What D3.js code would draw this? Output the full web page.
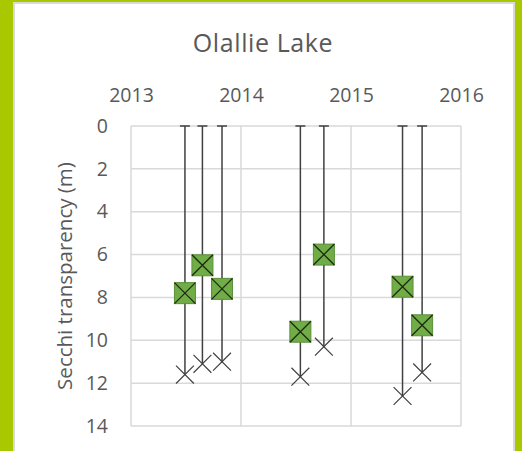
<!DOCTYPE html>
<html>
<head>
<meta charset="utf-8">
<script src="https://cdn.jsdelivr.net/npm/d3@7"></script>
<style>
  body { margin: 0; background: #a9c800; }
  svg { display: block; }
</style>
</head>
<body>
<svg id="canvas" width="522" height="451"></svg>
<script>
// sampling dates and secchi readings
var sampleDates = ["2013-06-29", "2013-08-26", "2013-10-30", "2014-07-17", "2014-10-03", "2015-06-21", "2015-08-25"];
var secchiDepth = [7.8, 6.5, 7.6, 9.6, 6.0, 7.5, 9.3];      // green squares
var lakeDepth   = [11.6, 11.1, 11.0, 11.7, 10.3, 12.6, 11.5]; // black crosses
var yearTicks   = ["2013", "2014", "2015", "2016"];
var depthTicks  = [0, 2, 4, 6, 8, 10, 12, 14];

var parse = d3.timeParse("%Y-%m-%d");
var rows = sampleDates.map(function(d, i) {
    return { date: parse(d), secchi: secchiDepth[i], bottom: lakeDepth[i] };
});

var svg = d3.select("#canvas");
var font = "'Open Sans', Lato, sans-serif";

// white chart panel with light grey frame
svg.append("rect")
    .attr("x", 14).attr("y", 3)
    .attr("width", 500).attr("height", 460)
    .attr("fill", "#fff")
    .attr("stroke", "#d9d9d9").attr("stroke-width", 2);

// plot box (top / left etc. clash with window globals, so prefix)
var pLeft = 131, pRight = 461, pTop = 126, pBottom = 426;

var x = d3.scaleTime()
    .domain([parse("2013-01-01"), parse("2016-01-01")])
    .range([pLeft, pRight]);
var y = d3.scaleLinear().domain([0, 14]).range([pTop, pBottom]);

var grid = svg.append("g").attr("stroke", "#d9d9d9").attr("stroke-width", 1.5);
grid.selectAll("line.h").data(depthTicks).enter().append("line")
    .attr("x1", pLeft).attr("x2", pRight)
    .attr("y1", function(d) { return y(d); }).attr("y2", function(d) { return y(d); });
grid.selectAll("line.v").data(yearTicks).enter().append("line")
    .attr("y1", pTop).attr("y2", pBottom)
    .attr("x1", function(d) { return x(parse(d + "-01-01")); })
    .attr("x2", function(d) { return x(parse(d + "-01-01")); });

// axes (labels only, excel style)
var xAxis = d3.axisTop(x)
    .tickValues(yearTicks.map(function(d) { return parse(d + "-01-01"); }))
    .tickFormat(d3.timeFormat("%Y"))
    .tickSize(0).tickPadding(24);
var gx = svg.append("g").attr("transform", "translate(0," + pTop + ")").call(xAxis);
gx.select(".domain").remove();
gx.selectAll("text").attr("fill", "#595959").style("font-family", font).style("font-size", "19.5px");

var yAxis = d3.axisLeft(y).tickValues(depthTicks).tickSize(0).tickPadding(23);
var gy = svg.append("g").attr("transform", "translate(" + pLeft + ",0)").call(yAxis);
gy.select(".domain").remove();
gy.selectAll("text").attr("fill", "#595959").style("font-family", font).style("font-size", "19.5px");

svg.append("text")
    .attr("transform", "translate(72," + ((pTop + pBottom) / 2) + ") rotate(-90)")
    .attr("text-anchor", "middle")
    .attr("fill", "#595959")
    .style("font-family", font).style("font-size", "20.5px")
    .text("Secchi transparency (m)");

svg.append("text")
    .attr("x", 263).attr("y", 52)
    .attr("text-anchor", "middle")
    .attr("fill", "#595959")
    .style("font-family", font).style("font-size", "25px")
    .style("letter-spacing", "0.6px")
    .text("Olallie Lake");

// bars from surface down to lake bottom, capped at 0
var marks = svg.append("g");
var bar = marks.selectAll("g.bar").data(rows).enter().append("g")
    .attr("stroke", "#404040").attr("stroke-width", 1.5);
bar.append("line")
    .attr("x1", function(d) { return x(d.date); }).attr("x2", function(d) { return x(d.date); })
    .attr("y1", y(0)).attr("y2", function(d) { return y(d.bottom); });
bar.append("line")
    .attr("x1", function(d) { return x(d.date) - 5; }).attr("x2", function(d) { return x(d.date) + 5; })
    .attr("y1", y(0)).attr("y2", y(0));

// crosses for bottom depth
var cross = d3.symbol().type(d3.symbolX).size(210);
marks.selectAll("path.bottom").data(rows).enter().append("path")
    .attr("d", cross)
    .attr("transform", function(d) { return "translate(" + x(d.date) + "," + y(d.bottom) + ")"; })
    .attr("fill", "none").attr("stroke", "#404040").attr("stroke-width", 1.2);

// green squares for secchi depth
var sq = 21;
var s = marks.selectAll("g.secchi").data(rows).enter().append("g")
    .attr("transform", function(d) { return "translate(" + x(d.date) + "," + y(d.secchi) + ")"; });
s.append("rect")
    .attr("x", -sq / 2).attr("y", -sq / 2).attr("width", sq).attr("height", sq)
    .attr("fill", "#70ad47").attr("stroke", "#5a8f38").attr("stroke-width", 1);
s.append("path")
    .attr("d", "M" + (-sq / 2) + "," + (-sq / 2) + "L" + (sq / 2) + "," + (sq / 2) +
               "M" + (sq / 2) + "," + (-sq / 2) + "L" + (-sq / 2) + "," + (sq / 2))
    .attr("stroke", "#1e2a14").attr("stroke-width", 1.3);
</script>
</body>
</html>
